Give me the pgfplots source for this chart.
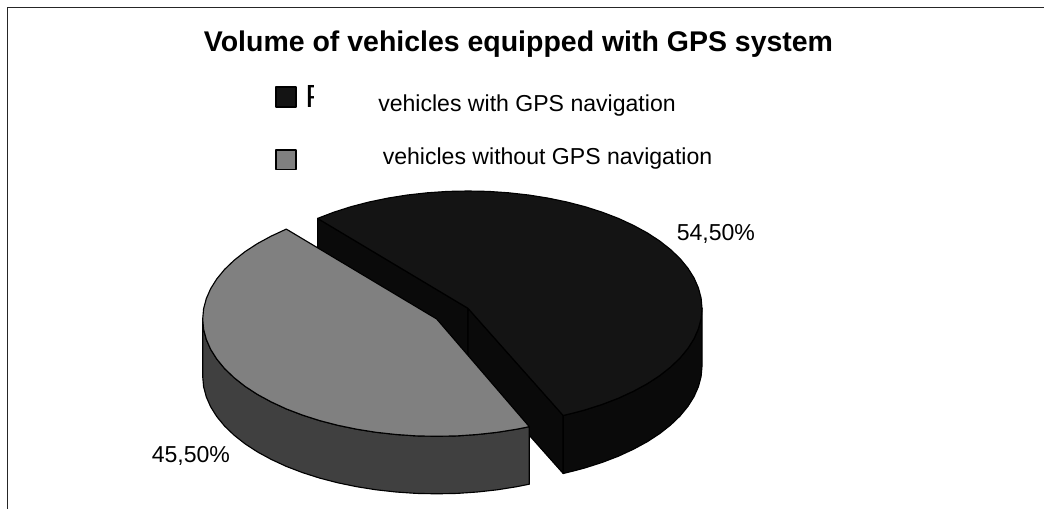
\documentclass[border=0pt]{standalone}
\usepackage{fontspec}
\setmainfont{Liberation Sans}
\usepackage{pgfplots}
\pgfplotsset{compat=1.18}
\newcommand{\fs}[1]{\fontsize{#1}{#1}\selectfont}
\definecolor{blacktop}{HTML}{141414}
\definecolor{blackwall}{HTML}{0A0A0A}
\definecolor{graytop}{HTML}{808080}
\definecolor{graywall}{HTML}{404040}
\begin{document}
\begin{tikzpicture}
\begin{axis}[
  scale only axis, width=783pt, height=381.75pt,
  xmin=0, xmax=1044, ymin=0, ymax=509, y dir=reverse,
  hide axis, clip=true,
  every axis plot/.append style={line width=0.85pt, line join=round, draw=black},
]
\path (axis cs:0,0) -- (axis cs:1044,509);
% frame
\addplot[draw=black!85, line width=1.3pt, forget plot] coordinates {(7.5,509) (7.5,7.5) (1044,7.5)};
% black slice: inner walls
\addplot[fill=blackwall] coordinates {(317.6,218.4) (468,308.3) (468,366.3) (317.6,276.4)} --cycle;
\addplot[fill=blackwall] coordinates {(468,308.3) (563.2,415.5) (563.2,473.5) (468,366.3)} --cycle;
% black slice: outer wall
\addplot[fill=blackwall] coordinates {(702,308.3) (701.1,318.5) (698.4,328.7) (694,338.7) (687.9,348.4) (680.1,357.9) (670.6,367) (659.7,375.6) (647.3,383.7) (633.5,391.2) (618.4,398.2) (602.2,404.4) (585,409.9) (574.2,412.8) (563.2,415.5)
 (563.2,473.5) (574.2,470.8) (585,467.9) (602.2,462.4) (618.4,456.2) (633.5,449.2) (647.3,441.7) (659.7,433.6) (670.6,425) (680.1,415.9) (687.9,406.4) (694,396.7) (698.4,386.7) (701.1,376.5) (702,366.3)} --cycle;
% black slice: top
\addplot[fill=blacktop] coordinates {(468,308.3) (317.6,218.4) (333.8,212.2) (351,206.7) (369.1,202) (388,198.1) (407.4,195) (427.4,192.8) (447.6,191.4) (468,191) (488.4,191.4) (508.6,192.8) (528.6,195) (548,198.1) (566.9,202) (585,206.7) (602.2,212.2) (618.4,218.4) (633.5,225.4) (647.3,232.9) (659.7,241) (670.6,249.6) (680.1,258.7) (687.9,268.2) (694,277.9) (698.4,287.9) (701.1,298.1) (702,308.3) (701.1,318.5) (698.4,328.7) (694,338.7) (687.9,348.4) (680.1,357.9) (670.6,367) (659.7,375.6) (647.3,383.7) (633.5,391.2) (618.4,398.2) (602.2,404.4) (585,409.9) (574.2,412.8) (563.2,415.5)} --cycle;
% gray slice: outer wall
\addplot[fill=graywall] coordinates {(202.7,319) (203.6,329.2) (206.3,339.4) (210.7,349.4) (216.8,359.1) (224.6,368.6) (234.1,377.7) (245,386.3) (257.4,394.4) (271.2,401.9) (286.3,408.9) (302.5,415.1) (319.7,420.6) (337.8,425.3) (356.7,429.2) (376.1,432.3) (396.1,434.5) (416.3,435.9) (436.7,436.3) (457.1,435.9) (477.3,434.5) (497.3,432.3) (516.7,429.2) (529.3,426.7)
 (529.3,484.2) (516.7,486.7) (497.3,489.8) (477.3,492) (457.1,493.4) (436.7,493.8) (416.3,493.4) (396.1,492) (376.1,489.8) (356.7,486.7) (337.8,482.8) (319.7,478.1) (302.5,472.6) (286.3,466.4) (271.2,459.4) (257.4,451.9) (245,443.8) (234.1,435.2) (224.6,426.1) (216.8,416.6) (210.7,406.9) (206.3,396.9) (203.6,386.7) (202.7,376.5)} --cycle;
% gray slice: top
\addplot[fill=graytop] coordinates {(436.7,319) (286.3,229.1) (271.2,236.1) (257.4,243.6) (245,251.7) (234.1,260.3) (224.6,269.4) (216.8,278.9) (210.7,288.6) (206.3,298.6) (203.6,308.8) (202.7,319) (203.6,329.2) (206.3,339.4) (210.7,349.4) (216.8,359.1) (224.6,368.6) (234.1,377.7) (245,386.3) (257.4,394.4) (271.2,401.9) (286.3,408.9) (302.5,415.1) (319.7,420.6) (337.8,425.3) (356.7,429.2) (376.1,432.3) (396.1,434.5) (416.3,435.9) (436.7,436.3) (457.1,435.9) (477.3,434.5) (497.3,432.3) (516.7,429.2) (529.3,426.7)} --cycle;
% legend keys
\addplot[fill=blacktop, line width=1.1pt] coordinates {(276,87) (296,87) (296,107) (276,107)} --cycle;
\addplot[fill=graytop, line width=1.1pt] coordinates {(276,150) (296,150) (296,169.5) (276,169.5)} --cycle;
% texts
\node[anchor=base, inner sep=0pt] at (axis cs:518.5,52) {\fs{21.35}\bfseries Volume of vehicles equipped with GPS system};
\begin{scope}
\clip (axis cs:300,80) rectangle (axis cs:313,115);
\node[anchor=base west, inner sep=0pt] at (axis cs:305,107.5) {\fs{24}P};
\end{scope}
\node[anchor=base west, inner sep=0pt] at (axis cs:378,112) {\fs{17.3}vehicles with GPS navigation};
\node[anchor=base west, inner sep=0pt] at (axis cs:382.5,165) {\fs{17.3}vehicles without GPS navigation};
\node[anchor=base west, inner sep=0pt] at (axis cs:676.5,241) {\fs{17.3}54,50\%};
\node[anchor=base west, inner sep=0pt] at (axis cs:151.5,462) {\fs{17.3}45,50\%};
\end{axis}
\end{tikzpicture}
\end{document}
